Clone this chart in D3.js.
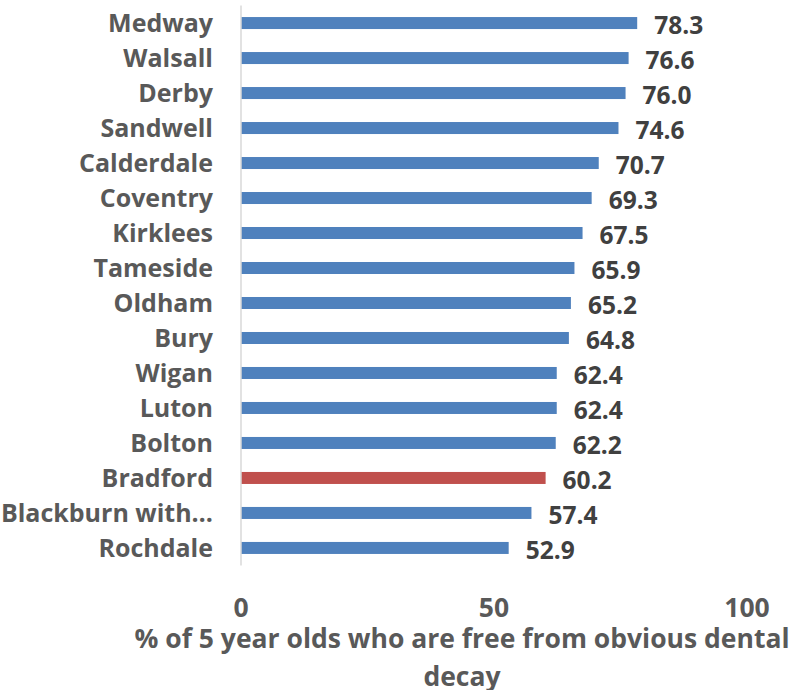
<!DOCTYPE html>
<html>
<head>
<meta charset="utf-8">
<script src="https://cdn.jsdelivr.net/npm/d3@7"></script>
<style>
  html, body { margin: 0; padding: 0; background: #fff; }
  svg { display: block; }
  text { font-family: "Open Sans", Lato, sans-serif; font-weight: bold; }
</style>
</head>
<body>
<svg id="chart" width="796" height="690"></svg>
<script>
// Local authorities and share of 5 year olds free from obvious dental decay
const areas = ["Medway", "Walsall", "Derby", "Sandwell", "Calderdale", "Coventry", "Kirklees",
  "Tameside", "Oldham", "Bury", "Wigan", "Luton", "Bolton", "Bradford", "Blackburn with…", "Rochdale"];
const values = [78.3, 76.6, 76.0, 74.6, 70.7, 69.3, 67.5, 65.9, 65.2, 64.8, 62.4, 62.4, 62.2, 60.2, 57.4, 52.9];
const highlighted = ["Bradford"];
const xTicks = [0, 50, 100];
const axisTitle = ["% of 5 year olds who are free from obvious dental", "decay"];

const svg = d3.select("#chart");
const plot = { left: 241, right: 747, top: 5.5, bottom: 565.5 };

const x = d3.scaleLinear().domain([0, 100]).range([plot.left, plot.right]);
const y = d3.scaleBand().domain(areas).range([plot.top, plot.bottom]).paddingInner(0.657).paddingOuter(0.33);

const rows = areas.map((a, i) => ({ area: a, value: values[i] }));

// Bars
svg.append("g").selectAll("rect").data(rows).join("rect")
  .attr("x", x(0))
  .attr("y", d => y(d.area))
  .attr("width", d => x(d.value) - x(0))
  .attr("height", y.bandwidth())
  .attr("fill", d => highlighted.includes(d.area) ? "#C0504D" : "#4F81BD");

// Vertical category axis line
svg.append("line")
  .attr("x1", x(0)).attr("x2", x(0))
  .attr("y1", plot.top).attr("y2", plot.bottom)
  .attr("stroke", "#d9d9d9").attr("stroke-width", 1.5);

// Category labels
svg.append("g").selectAll("text").data(rows).join("text")
  .attr("x", x(0) - 28)
  .attr("y", d => y(d.area) + y.bandwidth() / 2)
  .attr("dy", "0.36em")
  .attr("text-anchor", "end")
  .attr("font-size", 25)
  .attr("fill", "#595959")
  .text(d => d.area);

// Value labels
svg.append("g").selectAll("text").data(rows).join("text")
  .attr("x", d => x(d.value) + 17)
  .attr("y", d => y(d.area) + y.bandwidth() / 2 + 2)
  .attr("dy", "0.36em")
  .attr("font-size", 24.5)
  .attr("fill", "#404040")
  .text(d => d.value.toFixed(1));

// Value axis tick labels
svg.append("g").selectAll("text").data(xTicks).join("text")
  .attr("x", d => x(d))
  .attr("y", 607)
  .attr("dy", "0.36em")
  .attr("text-anchor", "middle")
  .attr("font-size", 26.5)
  .attr("fill", "#595959")
  .text(d => d);

// Axis title
svg.append("g").selectAll("text").data(axisTitle).join("text")
  .attr("x", 462)
  .attr("y", (d, i) => 638 + i * 38)
  .attr("dy", "0.36em")
  .attr("text-anchor", "middle")
  .attr("font-size", 26.5)
  .attr("fill", "#595959")
  .text(d => d);
</script>
</body>
</html>
